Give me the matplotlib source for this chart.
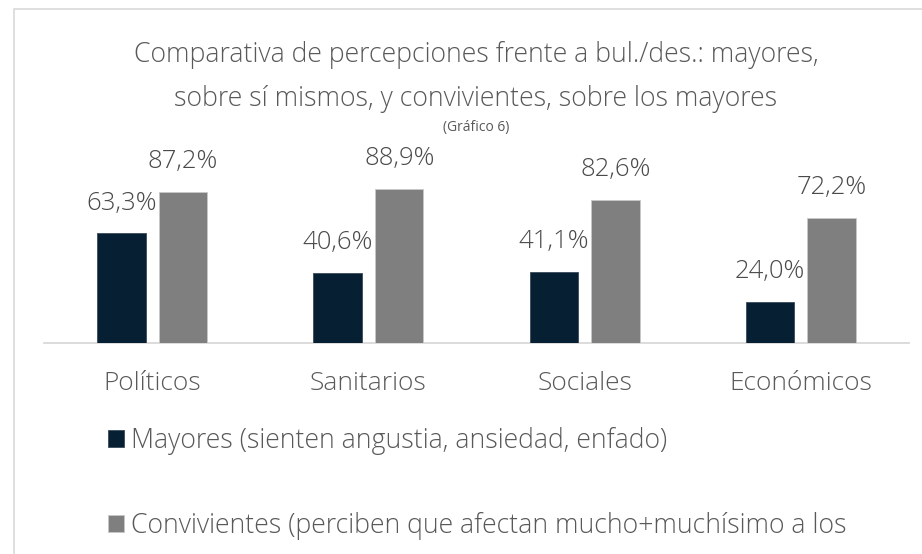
import numpy as np
import matplotlib
matplotlib.use("Agg")
import matplotlib.pyplot as plt
from matplotlib.patches import Rectangle

# datos del gráfico
categorias = ["Políticos", "Sanitarios", "Sociales", "Económicos"]
mayores = [63.3, 40.6, 41.1, 24.0]
convivientes = [87.2, 88.9, 82.6, 72.2]
etiqueta_mayores = "Mayores (sienten angustia, ansiedad, enfado)"
etiqueta_conviv = "Convivientes (perciben que afectan mucho+muchísimo a los"
titulo = ("Comparativa de percepciones frente a bul./des.: mayores,\n"
          "sobre sí mismos, y convivientes, sobre los mayores")
subtitulo = "(Gráfico 6)"

plt.rcParams['font.family'] = ['Open Sans', 'DejaVu Sans']

W, H = 922, 554
fig = plt.figure(figsize=(W / 100, H / 100), dpi=100)
fig.patch.set_facecolor("white")

# marco gris claro del área del gráfico
fig.patches.append(Rectangle((14 / W, -0.05), 1.2, (H - 9) / H + 0.05,
                             transform=fig.transFigure, fill=False,
                             edgecolor="#d9d9d9", linewidth=1.2))

ax = fig.add_axes([44 / W, (H - 343.3) / H, 865 / W, 173.7 / H])
ax.set_xlim(-0.5, 3.5)
ax.set_ylim(0, 100)

x = np.arange(len(categorias))
ancho = 0.224
desp = 0.1425
b1 = ax.bar(x - desp, mayores, ancho, color="#061f32", edgecolor="#3a4a5a",
            linewidth=0.6, label=etiqueta_mayores, zorder=3)
b2 = ax.bar(x + desp, convivientes, ancho, color="#7f7f7f", edgecolor="#c8c8c8",
            linewidth=0.6, label=etiqueta_conviv, zorder=3)

for barras in (b1, b2):
    for r in barras:
        v = r.get_height()
        ax.annotate(f"{v:.1f}%".replace(".", ","),
                    (r.get_x() + r.get_width() / 2, v),
                    xytext=(0, 17), textcoords="offset points",
                    ha="center", va="baseline", fontsize=18.5,
                    fontweight="light", color="#4a4a4a", annotation_clip=False)

for s in ("top", "right", "left"):
    ax.spines[s].set_visible(False)
ax.spines["bottom"].set_color("#d9d9d9")
ax.spines["bottom"].set_linewidth(1.3)
ax.set_yticks([])
ax.set_xticks(x)
ax.set_xticklabels(categorias, fontsize=19, fontweight="light", color="#595959")
ax.tick_params(axis="x", length=0, pad=20)

fig.text(476 / W, 1 - 77 / H, titulo, ha="center", va="center", fontsize=19.2,
         fontweight="light", color="#595959", linespacing=1.78)
fig.text(476 / W, 1 - 127 / H, subtitulo, ha="center", va="center", fontsize=10,
         color="#595959")

leg = fig.legend(handles=[b1, b2], loc="upper left",
                 bbox_to_anchor=(108 / W, 1 - 427 / H), frameon=False,
                 prop={"size": 19.2, "weight": "light"}, labelcolor="#595959",
                 handlelength=0.6, handleheight=0.6, handletextpad=0.25,
                 labelspacing=2.13, borderpad=0, borderaxespad=0)

fig.savefig("out.png", dpi=100, facecolor="white")
